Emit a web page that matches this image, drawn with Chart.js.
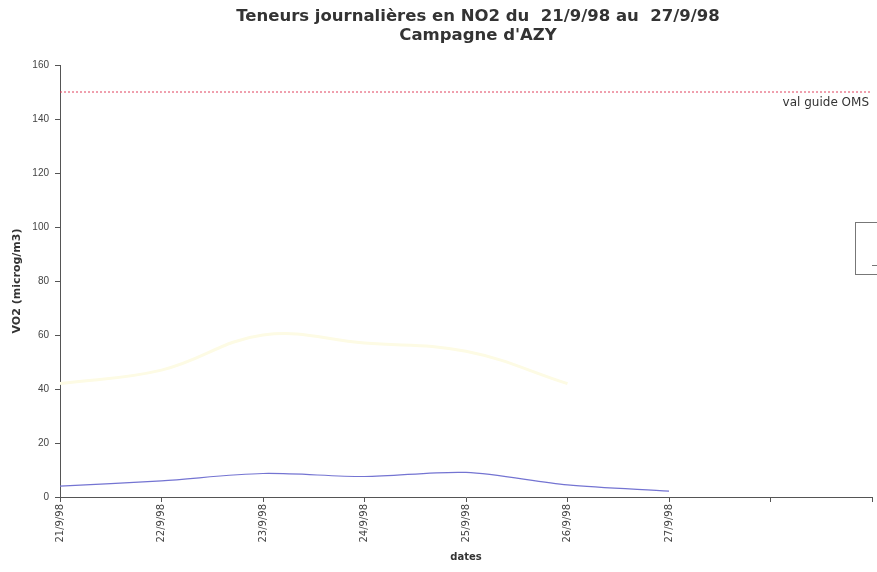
<!DOCTYPE html>
<html><head><meta charset="utf-8">
<script src="https://cdn.jsdelivr.net/npm/chart.js@4"></script>
<style>html,body{margin:0;padding:0;background:#fff}#wrap{width:877px;height:572px}</style>
</head><body><div id="wrap"><canvas id="c"></canvas></div>
<script>
const categories = ['21/9/98','22/9/98','23/9/98','24/9/98','25/9/98','26/9/98','27/9/98','',''];
const no2Values = [4, 6, 8.7, 7.6, 9.1, 4.5, 2.2, null, null];
const paleValues = [42, 47, 60, 57, 54, 42, null, null, null];
const guideValues = [150, 150, 150, 150, 150, 150, 150, 150, 150];
const guideLabel = 'val guide OMS';
const yTicks = [0, 20, 40, 60, 80, 100, 120, 140, 160];
const titleLines = ['Teneurs journalières en NO2 du  21/9/98 au  27/9/98', "Campagne d'AZY"];

const SANS = "'Liberation Sans', Arial, sans-serif";
const WIDE = "'DejaVu Sans', sans-serif";
Chart.defaults.font.family = WIDE;

const extras = {
  id: 'extras',
  afterDraw(chart) {
    const ctx = chart.ctx, y = chart.scales.y;
    ctx.save();
    // title
    ctx.fillStyle = '#333';
    ctx.textAlign = 'center';
    ctx.textBaseline = 'middle';
    ctx.font = 'bold 16.5px ' + WIDE;
    ctx.fillText(titleLines[0], 478, 17);
    ctx.fillText(titleLines[1], 478, 36);
    // guide label
    ctx.font = '12px ' + WIDE;
    ctx.textAlign = 'right';
    ctx.fillText(guideLabel, 869, y.getPixelForValue(150) + 11);
    // legend box partly cut off at right edge
    ctx.strokeStyle = '#777';
    ctx.lineWidth = 1;
    ctx.strokeRect(855.5, 222.5, 30, 52);
    ctx.beginPath();
    ctx.moveTo(872, 265.5); ctx.lineTo(877, 265.5);
    ctx.stroke();
    ctx.restore();
  }
};

new Chart(document.getElementById('c'), {
  type: 'line',
  data: {
    labels: categories,
    datasets: [
      { label: 'NO2', data: no2Values, borderColor: '#7474d2', borderWidth: 1.2, pointRadius: 0, tension: 0.3 },
      { label: 'pale', data: paleValues, borderColor: '#fdfbe4', borderWidth: 3, pointRadius: 0, tension: 0.4 },
      { label: guideLabel, data: guideValues, borderColor: '#e0405c', borderWidth: 1, borderDash: [2, 2], pointRadius: 0, tension: 0 }
    ]
  },
  options: {
    responsive: true, maintainAspectRatio: false, animation: false,
    layout: { padding: { left: 4, right: 5, top: 65, bottom: 0 } },
    plugins: {
      legend: { display: false },
      tooltip: { enabled: false },
      title: { display: false }
    },
    scales: {
      x: {
        type: 'category', offset: false,
        border: { color: '#555', width: 1 },
        grid: { display: true, drawOnChartArea: false, color: '#555', tickLength: 5 },
        ticks: { color: '#444', font: { size: 10, family: WIDE }, minRotation: 90, maxRotation: 90, autoSkip: false, padding: 2 },
        title: { display: true, text: 'dates', color: '#333', font: { size: 10, weight: 'bold', family: WIDE }, padding: { top: 0, bottom: 9 } },
        afterFit(s) { s.height = 75; s.paddingLeft = 0; s.paddingRight = 0; }
      },
      y: {
        min: 0, max: 160,
        border: { color: '#555', width: 1 },
        grid: { display: true, drawOnChartArea: false, color: '#555', tickLength: 5 },
        afterBuildTicks(s) { s.ticks = yTicks.map(v => ({ value: v })); },
        ticks: { color: '#444', font: { size: 10, family: SANS }, padding: 6 },
        title: { display: true, text: 'VO2 (microg/m3)', color: '#333', font: { size: 11, weight: 'bold', family: WIDE }, padding: { top: 7, bottom: 0 } },
        afterFit(s) { s.width = 56; s.paddingTop = 0; s.paddingBottom = 0; }
      }
    }
  },
  plugins: [extras]
});
</script></body></html>
